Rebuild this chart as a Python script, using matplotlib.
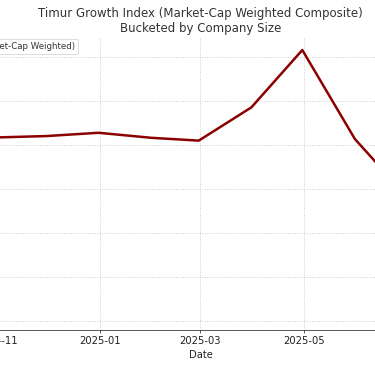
import matplotlib
matplotlib.use("Agg")
import matplotlib.pyplot as plt
import matplotlib.dates as mdates
import pandas as pd

# Data (month-end values)
dates = ["2024-10-31", "2024-11-30", "2024-12-31", "2025-01-31", "2025-02-28",
         "2025-03-31", "2025-04-30", "2025-05-31", "2025-06-30"]
index_values = [101.66, 101.98, 102.73, 101.59, 100.95, 108.5, 121.52, 101.3, 88.5]
series_label = "Timur Growth Index (Market-Cap Weighted)"
title_text = "Timur Growth Index (Market-Cap Weighted Composite)\nBucketed by Company Size"
y_ticks = [60, 70, 80, 90, 100, 110, 120]

x = pd.to_datetime(dates)

plt.rcParams['font.family'] = ['DejaVu Sans']
fig = plt.figure(figsize=(375 / 72, 366 / 72), dpi=72)
ax = fig.add_axes([-25.5 / 375, 36 / 366, 451.9 / 375, 292 / 366])

ax.plot(x, index_values, color="#8B0000", linewidth=2.5, label=series_label)

ax.set_ylim(57.95, 124.25)
ax.set_yticks(y_ticks)
ax.xaxis.set_major_locator(mdates.MonthLocator(bymonth=[1, 3, 5, 7, 9, 11]))
ax.xaxis.set_major_formatter(mdates.DateFormatter("%Y-%m"))

ax.grid(True, linestyle=":", color="#c8c8c8", linewidth=0.9)
ax.set_axisbelow(True)
for s in ["top", "right", "left"]:
    ax.spines[s].set_visible(False)
ax.spines["bottom"].set_color("#333333")
ax.tick_params(axis="both", labelsize=10, colors="#333333", labelcolor="#222222", length=3)

ax.set_title(title_text, fontsize=11.8, color="#333333", pad=6)
ax.set_xlabel("Date", fontsize=10, color="#222222")

leg = ax.legend(loc="upper right", bbox_to_anchor=(78 / 375, 1 - 38.5 / 366),
                bbox_transform=fig.transFigure, borderaxespad=0, fontsize=8.6,
                frameon=True, fancybox=True, framealpha=1)
leg.get_frame().set_edgecolor("#dddddd")
for t in leg.get_texts():
    t.set_color("#333333")

fig.savefig("out.png", dpi=72)
